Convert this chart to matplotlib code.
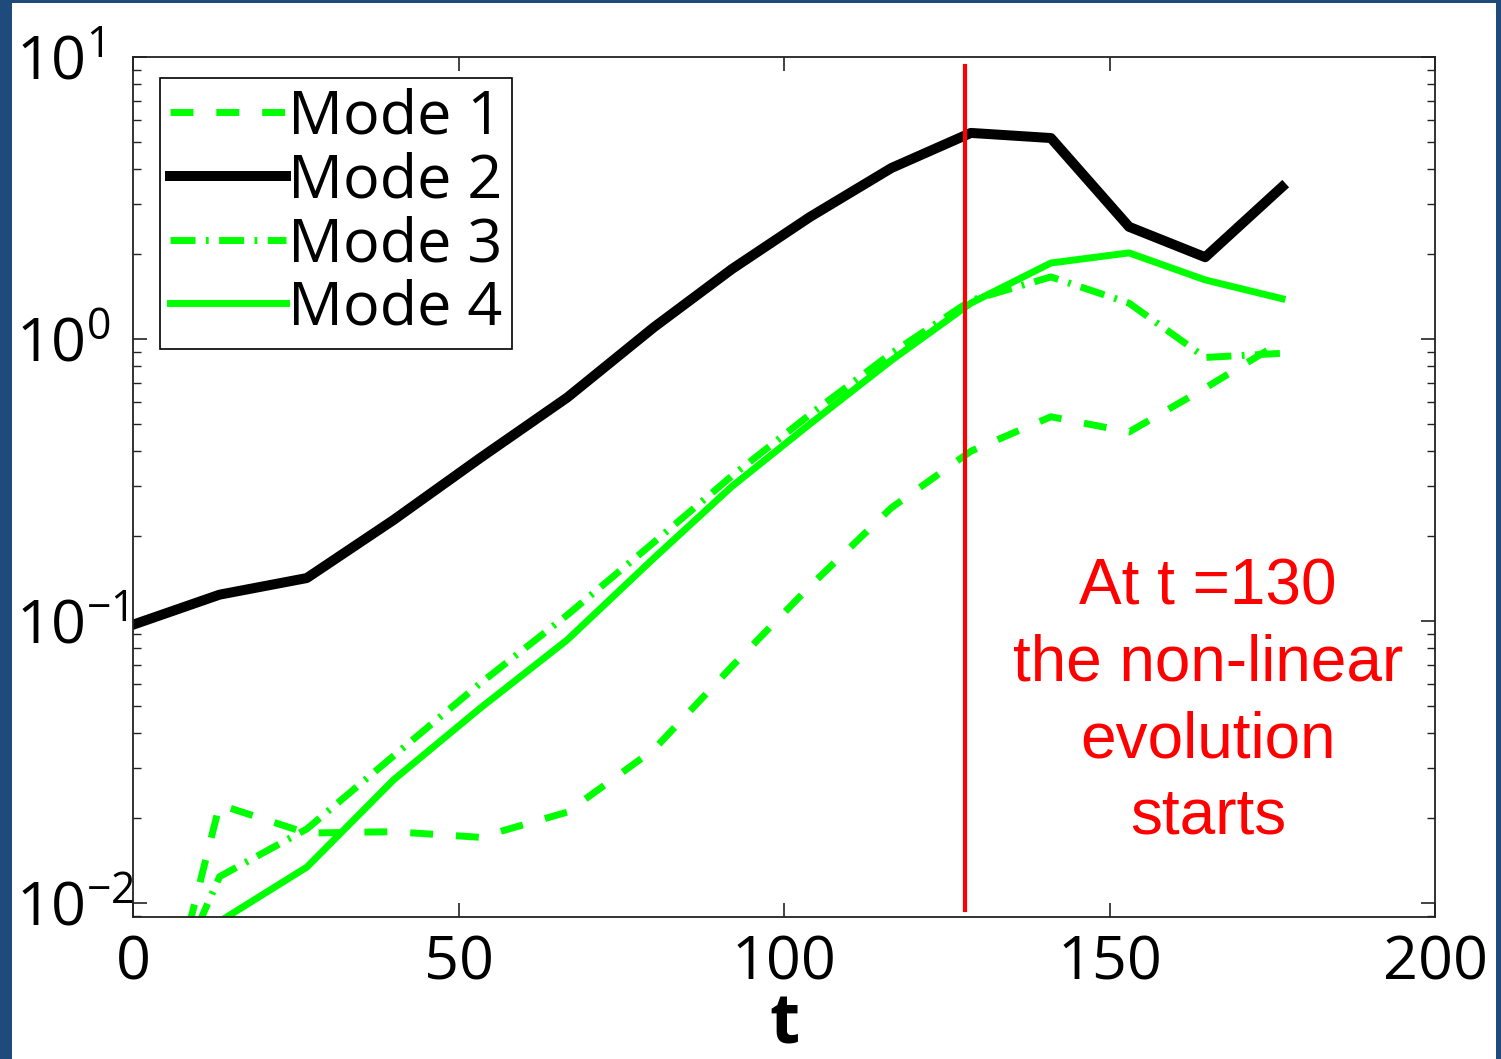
import numpy as np
import matplotlib.pyplot as plt
from matplotlib.patches import Rectangle
from matplotlib.ticker import LogLocator, FixedLocator

# mode amplitudes vs time
t = [0, 13.3, 26.7, 40, 53.3, 66.7, 80, 92, 104, 116.5, 128.7, 141, 153, 164.7, 176.5]
mode1 = [0.00135, 0.0223, 0.0177, 0.0179, 0.0171, 0.021, 0.035, 0.069, 0.133, 0.252, 0.40, 0.53, 0.468, 0.67, 0.98]
mode2 = [0.097, 0.124, 0.142, 0.228, 0.378, 0.62, 1.10, 1.77, 2.71, 4.04, 5.38, 5.16, 2.50, 1.95, 3.46]
mode3 = [0.0025, 0.0124, 0.0183, 0.0332, 0.060, 0.105, 0.19, 0.327, 0.54, 0.89, 1.37, 1.66, 1.34, 0.86, 0.89]
mode4 = [0.002, 0.0086, 0.0134, 0.0273, 0.049, 0.0857, 0.167, 0.30, 0.50, 0.84, 1.34, 1.86, 2.02, 1.62, 1.39]
labels = ['Mode 1', 'Mode 2', 'Mode 3', 'Mode 4']
t_nonlin = 127.8
note = 'At t =130\nthe non-linear\nevolution\nstarts'

font = 'Open Sans'
plt.rcParams['mathtext.fontset'] = 'custom'
plt.rcParams['mathtext.rm'] = font
plt.rcParams['mathtext.it'] = font
plt.rcParams['font.family'] = [font, 'DejaVu Sans']

W, H = 1501, 1059
fig = plt.figure(figsize=(W / 100, H / 100), dpi=100, facecolor='#1F4A7C')
# white slide area inside the blue frame
fig.patches.append(Rectangle((12 / W, 0), (1496 - 12) / W, (H - 3) / H,
                             transform=fig.transFigure, facecolor='white',
                             edgecolor='none', zorder=-5))

ax = fig.add_axes([133 / W, (H - 917) / H, (1435 - 133) / W, (917 - 57) / H])
ax.set_facecolor('white')

green = '#00FF00'
ax.plot(t, mode1, color=green, lw=5, dashes=(3.3, 3.3), label=labels[0])
ax.plot(t, mode2, color='black', lw=7.2, label=labels[1])
ax.plot(t, mode3, color=green, lw=5, dashes=(3.6, 1.5, 0.4, 1.5), label=labels[2])
ax.plot(t, mode4, color=green, lw=5, label=labels[3])

ax.axvline(t_nonlin, ymin=0.008, ymax=0.99, color='red', lw=3)

ax.set_yscale('log')
ax.set_xlim(0, 200)
ax.set_ylim(10 ** (-2 - 14 / 282), 10)
ax.xaxis.set_major_locator(FixedLocator([0, 50, 100, 150, 200]))
ax.yaxis.set_major_locator(LogLocator(base=10, numticks=10))
ax.yaxis.set_minor_locator(LogLocator(base=10, subs=np.arange(2, 10), numticks=10))
ax.yaxis.set_minor_formatter(plt.NullFormatter())

ax.tick_params(which='both', direction='in', top=True, right=True, colors='#222222')
ax.tick_params(which='major', length=10, width=1.2)
ax.tick_params(which='minor', length=6, width=1.0)
ax.tick_params(axis='x', labelsize=44, pad=12, labelcolor='black')
# y labels start at a fixed left edge like the MATLAB export
ax.tick_params(axis='y', labelsize=44, pad=(133 - 16) * 0.72, labelcolor='black')
for lab in ax.get_yticklabels():
    lab.set_horizontalalignment('left')
for sp in ax.spines.values():
    sp.set_linewidth(1.3)
    sp.set_color('#222222')

ax.set_xlabel('t', fontsize=50, fontweight='bold')
ax.xaxis.set_label_coords(0.5, (917 - 1043) / 860)
ax.xaxis.label.set_va('baseline')

leg = ax.legend(loc='upper left', bbox_to_anchor=(27 / 1302, (917 - 78) / 860),
                borderaxespad=0, fancybox=False, edgecolor='black', framealpha=1,
                prop={'size': 44}, handlelength=1.9,
                handletextpad=0.04, labelspacing=0.06, borderpad=0.16)
leg.get_frame().set_linewidth(1.2)

ax.text(t_nonlin + (1208 - 965) / 6.51, 10 ** ((339 - 702) / 282), note,
        color='red', fontsize=46, family='Liberation Sans', ha='center', va='center',
        linespacing=1.35)

fig.savefig('out.png', dpi=100, facecolor=fig.get_facecolor())
